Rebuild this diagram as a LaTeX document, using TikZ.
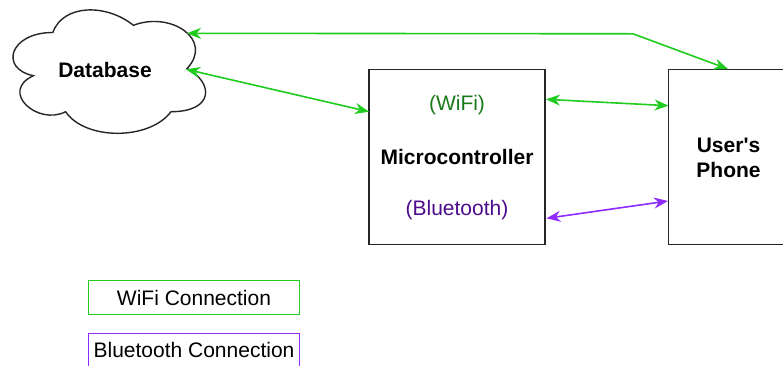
\documentclass[tikz,border=0pt]{standalone}
\usepackage{fontspec}
\setmainfont{Liberation Sans}
\usetikzlibrary{arrows.meta}
\definecolor{wifiline}{HTML}{1FCC1F}
\definecolor{wifitext}{HTML}{1A7A1A}
\definecolor{btline}{HTML}{8F2BFF}
\definecolor{bttext}{HTML}{4C0C8C}
\tikzset{
  txt/.style={font=\fontsize{21}{25}\selectfont, inner sep=0pt, align=center},
  boxed/.style={draw=black!85, line width=1.6pt, inner sep=0pt},
  link/.style={line width=1.6pt, {Stealth[length=14pt,width=11pt,inset=4.5pt]}-{Stealth[length=14pt,width=11pt,inset=4.5pt]}},
  wifi/.style={link, draw=wifiline},
  bt/.style={link, draw=btline},
}
\begin{document}
\begin{tikzpicture}[x=1pt, y=-1pt]
\useasboundingbox (0,0) rectangle (783,365);
\clip (0,0) rectangle (783,365);
\fill[white] (0,0) rectangle (783,365);

% cloud outline
\draw[black!85, line width=1.4pt, fill=white]
  (52.75,32.5) .. controls (9.75,32.5) and (-1,68.5) .. (33.4,75.7)
  .. controls (-1,91.5) and (37.7,126.1) .. (65.65,111.7)
  .. controls (85,140.5) and (149.5,140.5) .. (171,111.7)
  .. controls (214,111.7) and (214,82.9) .. (187.1,68.5)
  .. controls (214,39.7) and (171,10.9) .. (133.4,25.3)
  .. controls (106.5,3.7) and (63.5,3.7) .. (52.75,32.5) -- cycle;
\node[txt, font=\fontsize{21}{25}\selectfont\bfseries] (db) at (105,70) {Database};

% main boxes
\node[boxed, minimum width=176pt, minimum height=175pt] (mcu) at (457,156.8) {};
\node[txt, text=wifitext] (mcuwifi) at (457,105) {(WiFi)};
\node[txt, font=\fontsize{21}{25}\selectfont\bfseries] (mculabel) at (457,157) {Microcontroller};
\node[txt, text=bttext] (mcubt) at (457,210) {(Bluetooth)};

\node[boxed, minimum width=121pt, minimum height=175pt] (phone) at (728.8,156.8) {};
\node[txt, font=\fontsize{21}{25}\selectfont\bfseries] (phonelabel) at (728.5,157.5) {User\textquotesingle s\\Phone};

% connector end points on the outlines
\coordinate (dbA) at (187,33.3);
\coordinate (dbB) at (186,69.3);
\coordinate (bend) at (633,33.8);
\coordinate (phTop) at (728,69);
\coordinate (mcuIn) at (369,111.7);
\coordinate (mcuW) at (546,99.3);
\coordinate (mcuB) at (546.5,218.3);
\coordinate (phW) at (668.5,105.7);
\coordinate (phB) at (668,201);

% connectors
\draw[wifi] (dbA) -- (bend) -- (phTop);
\draw[wifi] (dbB) -- (mcuIn);
\draw[wifi] (mcuW) -- (phW);
\draw[bt] (mcuB) -- (phB);

% legend
\node[draw=wifiline, line width=1.4pt, minimum width=211pt, minimum height=33.6pt, inner sep=0pt] (legwifi) at (194,297.5) {};
\node[txt] (legwifitxt) at (194,298) {WiFi Connection};
\node[draw=btline, line width=1.4pt, minimum width=211pt, minimum height=34pt, inner sep=0pt] (legbt) at (194,350.3) {};
\node[txt] (legbttxt) at (194,350) {Bluetooth Connection};
\end{tikzpicture}
\end{document}
